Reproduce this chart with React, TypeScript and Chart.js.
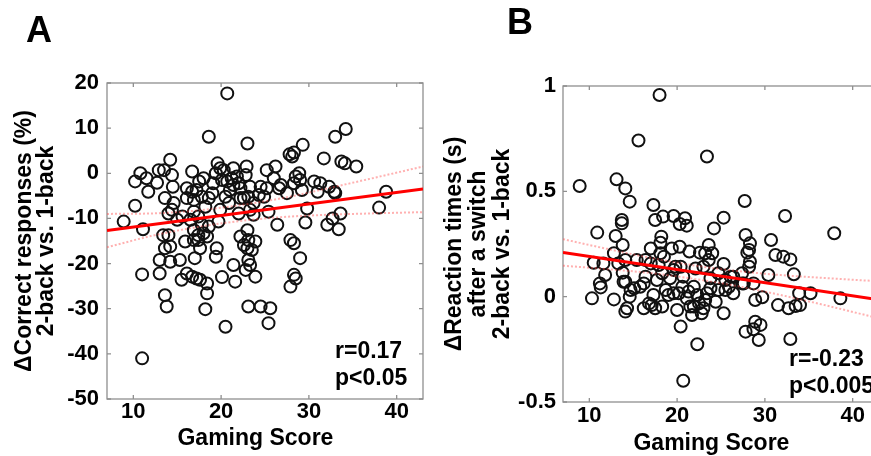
import React, { useEffect, useRef } from "react";
import { Chart, registerables } from "chart.js";

Chart.register(...registerables);

const FONT = "'Liberation Sans', Arial, Helvetica, sans-serif";

// ---------- axes ----------
const xTicks = [10, 20, 30, 40];
const xTitle = "Gaming Score\u00a0\u00a0\u00a0";
const yTicksA = [-50, -40, -30, -20, -10, 0, 10, 20];
const yTickLabelsA = ["-50", "-40", "-30", "-20", "-10", "0", "10", "20"];
const yTicksB = [-0.5, 0, 0.5, 1];
const yTickLabelsB = ["-0.5", "0", "0.5", "1"];

// ---------- panel A: gaming score vs delta correct responses ----------
const gamingA = [
  20.7, 18.6, 23.0, 34.2, 33.0, 29.3, 31.7, 27.8, 28.3, 28.1,
  33.7, 34.1, 35.4, 14.2, 12.9, 13.5, 14.4, 10.8, 10.2, 11.5,
  11.7, 12.7, 10.2, 8.9, 11.1, 11.0, 13.0, 13.0, 13.6, 13.8,
  11.0, 14.5, 13.6, 14.6, 14.0, 14.4, 13.4, 14.0, 13.6, 14.2,
  14.2, 15.3, 15.5, 15.0, 16.7, 16.1, 16.7, 16.1, 16.9, 17.2,
  17.5, 18.0, 17.8, 18.6, 19.0, 19.1, 18.2, 16.9, 17.4, 16.5,
  16.9, 17.8, 17.4, 18.0, 16.9, 17.4, 18.4, 18.6, 17.6, 17.0,
  16.1, 16.7, 17.2, 17.6, 18.4, 18.4, 18.2, 15.9, 15.6, 19.6,
  19.9, 19.4, 20.3, 21.4, 20.1, 20.7, 21.2, 21.8, 21.4, 22.0,
  22.2, 21.0, 20.5, 20.9, 19.9, 19.7, 19.5, 19.4, 20.1, 20.5,
  21.4, 21.6, 22.0, 22.2, 22.9, 22.8, 23.3, 22.6, 23.1, 23.7,
  23.3, 23.7, 23.0, 22.2, 22.6, 23.1, 23.9, 23.0, 23.5, 23.1,
  23.3, 22.8, 23.9, 23.1, 24.5, 25.2, 24.5, 24.3, 24.9, 25.4,
  25.6, 25.4, 25.2, 26.2, 26.0, 26.8, 26.6, 27.5, 28.3, 28.9,
  29.0, 29.2, 26.4, 27.9, 28.3, 29.0, 28.3, 28.5, 27.9, 29.8,
  29.6, 28.5, 30.6, 31.3, 31.0, 32.3, 32.9, 33.0, 32.1, 32.7,
  33.4, 33.6, 38.0, 38.8,
];
const correctA = [
  17.7, 8.1, 6.6, 9.8, 8.1, 6.3, 3.3, 4.2, 4.6, 3.7,
  2.6, 2.2, 1.5, 3.0, 0.7, 0.7, -0.4, 0, -1.8, -1.1,
  -4.1, -2.1, -7.2, -10.7, -12.4, -22.4, -19.2, -22.2, -27.0, -29.5,
  -41.0, -3.0, -5.5, -6.6, -8.9, -8.1, -13.7, -13.7, -16.6, -16.2,
  -19.6, -19.2, -23.6, -10.3, 0.4, -3.3, -4.1, -5.5, -5.9, -3.7,
  -1.8, -1.1, -5.2, -5.5, -4.4, -2.2, -7.4, -8.5, -9.6, -10.3,
  -12.6, -11.4, -13.7, -13.3, -14.8, -14.8, -14.0, -11.8, -16.6, -18.8,
  -22.2, -22.9, -23.3, -23.6, -24.4, -26.6, -30.1, -15.1, -9.6, 2.2,
  1.1, 0, 0.7, 1.1, -1.5, -1.8, -1.1, -0.7, -2.6, -2.2,
  -3.3, -3.7, -5.2, -6.6, -8.1, -10.7, -16.6, -18.5, -23.0, -34.0,
  -20.3, -24.0, -8.9, -5.5, 1.5, -0.4, -3.0, -5.5, -5.2, -6.6,
  -8.1, -9.2, -12.6, -14.0, -15.9, -14.8, -15.1, -16.6, -17.0, -19.2,
  -20.3, -21.4, -22.9, -29.5, -29.5, -3.3, -3.0, -4.8, -5.2, -8.5,
  -29.9, -33.2, 0.7, 1.5, -1.1, -2.6, -3.3, -4.4, -2.2, 0,
  -1.5, -3.7, -11.4, -14.8, -15.5, -18.8, -22.5, -23.3, -25.1, -7.8,
  -10.9, -0.7, -1.8, -2.2, -4.1, -3.0, -4.1, -4.4, -11.4, -10.0,
  -12.4, -8.9, -7.6, -4.1,
];
const fitXA = [7, 43];
const fitYA = [-12.7, -3.5];
const bandXA = [7, 12, 17, 22, 27, 32, 37, 43];
const bandUpA = [-9.0, -8.9, -8.3, -7.1, -5.5, -3.4, -1.2, 1.5];
const bandLoA = [-16.4, -13.9, -12.0, -10.6, -9.7, -9.2, -8.9, -8.6];
const statsA = ["r=0.17", "p<0.05"];

// ---------- panel B: gaming score vs delta reaction times ----------
const gamingB = [
  18.0, 15.6, 23.4, 8.9, 13.1, 14.1, 14.6, 17.3, 27.7, 32.3,
  37.9, 10.9, 13.0, 13.7, 13.7, 13.8, 17.0, 17.5, 18.4, 19.6,
  20.3, 21.1, 20.9, 18.2, 18.1, 20.3, 21.4, 24.2, 25.3, 27.8,
  28.3, 28.2, 28.0, 28.3, 30.7, 31.2, 32.1, 32.9, 33.3, 30.4,
  22.6, 23.2, 24.0, 23.6, 23.0, 25.3, 24.7, 26.1, 27.4, 28.2,
  26.4, 27.6, 28.7, 29.7, 31.5, 32.7, 33.5, 34.0, 33.9, 35.2,
  38.6, 27.8, 28.9, 29.5, 29.3, 28.7, 32.9, 22.3, 20.7, 20.4,
  10.3, 10.5, 11.2, 11.3, 11.8, 11.6, 12.8, 14.1, 14.3, 14.6,
  14.1, 14.7, 13.8, 13.3, 12.8, 14.1, 15.1, 15.4, 15.8, 16.2,
  16.4, 16.2, 16.8, 17.1, 17.3, 17.0, 17.9, 17.7, 18.3, 18.3,
  18.7, 19.0, 19.2, 19.6, 19.8, 20.0, 20.2, 20.6, 20.7, 21.1,
  21.5, 21.7, 21.3, 21.9, 21.9, 22.3, 22.5, 22.8, 23.0, 23.2,
  23.4, 23.8, 23.8, 24.4, 25.3, 24.7, 25.5, 25.9, 19.4, 18.1,
  16.4, 20.4, 22.1, 23.6, 13.9, 17.5, 19.6, 25.5, 27.4, 28.9,
  26.4, 18.5,
];
const reactionB = [
  0.957, 0.741, 0.665, 0.525, 0.557, 0.514, 0.451, 0.435, 0.454, 0.383,
  0.301, 0.304, 0.288, 0.364, 0.348, 0.245, 0.229, 0.364, 0.38, 0.383,
  0.345, 0.337, 0.372, 0.285, 0.256, 0.237, 0.214, 0.324, 0.375, 0.293,
  0.253, 0.222, 0.209, 0.166, 0.269, 0.198, 0.19, 0.177, 0.106, 0.103,
  0.209, 0.206, 0.206, 0.174, 0.142, 0.155, 0.111, 0.095, 0.111, 0.142,
  0.016, 0.063, 0.063, -0.003, -0.04, -0.055, -0.044, -0.04, 0.016, 0.016,
  -0.008, -0.166, -0.119, -0.134, -0.206, -0.155, -0.201, -0.226, -0.399, -0.142,
  -0.008, 0.161, 0.063, 0.044, 0.103, 0.158, -0.013, -0.071, -0.055, 0.0,
  0.071, 0.032, 0.114, 0.158, 0.206, 0.174, 0.04, 0.174, 0.047, 0.063,
  0.095, -0.055, -0.032, -0.04, 0.008, 0.158, 0.15, 0.079, 0.111, -0.047,
  0.032, 0.008, 0.087, 0.127, 0.142, -0.063, 0.016, 0.047, 0.095, -0.008,
  -0.047, -0.087, 0.024, 0.047, -0.047, 0.008, -0.032, -0.079, -0.055, -0.016,
  0.016, 0.04, 0.087, -0.024, -0.079, 0.032, 0.079, 0.047, 0.229, 0.206,
  0.174, 0.142, 0.134, 0.245, 0.071, -0.055, 0.016, 0.032, 0.063, -0.016,
  0.095, 0.19,
];
const fitXB = [7, 43];
const fitYB = [0.21, -0.015];
const bandXB = [7, 12, 17, 22, 27, 32, 37, 43];
const bandUpB = [0.273, 0.227, 0.184, 0.148, 0.121, 0.102, 0.088, 0.073];
const bandLoB = [0.147, 0.131, 0.112, 0.084, 0.049, 0.006, -0.042, -0.103];
const statsB = ["r=-0.23", "p<0.005"];

const toPts = (xs: number[], ys: number[]) => xs.map((x, i) => ({ x, y: ys[i] }));

const framePlugin = {
  id: "frame",
  beforeDatasetsDraw(chart: any) {
    const { ctx, chartArea } = chart;
    const { left, right, top, bottom } = chartArea;
    const sx = chart.scales.x;
    const sy = chart.scales.y;
    ctx.save();
    ctx.strokeStyle = "#8f8f8f";
    ctx.lineWidth = 1.3;
    ctx.strokeRect(left, top, right - left, bottom - top);
    const tl = 4;
    ctx.beginPath();
    sx.ticks.forEach((t: any) => {
      const px = sx.getPixelForValue(t.value);
      ctx.moveTo(px, bottom);
      ctx.lineTo(px, bottom - tl);
      ctx.moveTo(px, top);
      ctx.lineTo(px, top + tl);
    });
    sy.ticks.forEach((t: any) => {
      const py = sy.getPixelForValue(t.value);
      ctx.moveTo(left, py);
      ctx.lineTo(left + tl, py);
      ctx.moveTo(right, py);
      ctx.lineTo(right - tl, py);
    });
    ctx.stroke();
    ctx.restore();
  },
  afterDatasetsDraw(chart: any, _args: any, opts: any) {
    if (!opts || !opts.lines) return;
    const { ctx, chartArea } = chart;
    ctx.save();
    ctx.fillStyle = "#000";
    ctx.font = `bold 23px ${FONT}`;
    ctx.textAlign = "left";
    ctx.textBaseline = "alphabetic";
    opts.lines.forEach((s: string, i: number) => {
      ctx.fillText(s, chartArea.right + opts.dx, chartArea.bottom + opts.dy[i]);
    });
    ctx.restore();
  },
};

type PanelProps = {
  left: number;
  width: number;
  xs: number[];
  ys: number[];
  fitX: number[];
  fitY: number[];
  bandX: number[];
  bandUp: number[];
  bandLo: number[];
  yMin: number;
  yMax: number;
  yTicks: number[];
  yTickLabels: string[];
  yTitle: string[];
  yTitleLH: number;
  yTitlePad: number;
  axisW: number;
  axisH: number;
  padTop: number;
  padRight: number;
  yTickPad: number;
  xTickPad: number;
  xTitlePad: number;
  stats: string[];
  statsDx: number;
  statsDy: number[];
};

function Panel(p: PanelProps) {
  const ref = useRef<HTMLCanvasElement | null>(null);
  useEffect(() => {
    if (!ref.current) return;
    const bandStyle = {
      type: "line" as const,
      borderColor: "rgba(255,70,70,0.42)",
      borderWidth: 2,
      borderDash: [2, 2],
      pointRadius: 0,
      fill: false,
      cubicInterpolationMode: "monotone" as const,
    };
    const chart = new Chart(ref.current, {
      type: "scatter",
      data: {
        datasets: [
          {
            type: "line",
            data: toPts(p.fitX, p.fitY),
            borderColor: "#ff0000",
            borderWidth: 3,
            pointRadius: 0,
            fill: false,
          } as any,
          { ...bandStyle, data: toPts(p.bandX, p.bandUp) } as any,
          { ...bandStyle, data: toPts(p.bandX, p.bandLo) } as any,
          {
            data: toPts(p.xs, p.ys),
            pointRadius: 6,
            pointHoverRadius: 6,
            borderWidth: 2,
            borderColor: "#111",
            backgroundColor: "rgba(0,0,0,0)",
          } as any,
        ],
      },
      options: {
        responsive: false,
        animation: false,
        events: [],
        layout: { padding: { top: p.padTop, right: p.padRight, left: 0, bottom: 0 } },
        plugins: {
          legend: { display: false },
          tooltip: { enabled: false },
          frame: { lines: p.stats, dx: p.statsDx, dy: p.statsDy },
        } as any,
        scales: {
          x: {
            type: "linear",
            min: 7,
            max: 43,
            afterBuildTicks: (s: any) => {
              s.ticks = xTicks.map((v) => ({ value: v }));
            },
            afterFit: (s: any) => {
              s.height = p.axisH;
            },
            grid: { display: false, drawTicks: false },
            border: { display: false },
            ticks: {
              color: "#000",
              font: { family: FONT, size: 22, weight: "bold" },
              padding: p.xTickPad,
              maxRotation: 0,
              autoSkip: false,
              callback: (v: any) => String(v),
            },
            title: {
              display: true,
              text: xTitle,
              color: "#000",
              font: { family: FONT, size: 23, weight: "bold", lineHeight: 1 },
              padding: { top: 0, bottom: p.xTitlePad },
            },
          },
          y: {
            type: "linear",
            min: p.yMin,
            max: p.yMax,
            afterBuildTicks: (s: any) => {
              s.ticks = p.yTicks.map((v) => ({ value: v }));
            },
            afterFit: (s: any) => {
              s.width = p.axisW;
            },
            grid: { display: false, drawTicks: false },
            border: { display: false },
            ticks: {
              color: "#000",
              font: { family: FONT, size: 22, weight: "bold" },
              padding: p.yTickPad,
              autoSkip: false,
              callback: (v: any) => {
                const i = p.yTicks.indexOf(Number(v));
                return i >= 0 ? p.yTickLabels[i] : String(v);
              },
            },
            title: {
              display: true,
              text: p.yTitle,
              color: "#000",
              font: { family: FONT, size: 23, weight: "bold", lineHeight: `${p.yTitleLH}px` },
              padding: { top: p.yTitlePad, bottom: 0 },
            },
          },
        },
      } as any,
      plugins: [framePlugin as any],
    });
    return () => chart.destroy();
  }, []);
  return (
    <canvas
      ref={ref}
      width={p.width}
      height={456}
      style={{ position: "absolute", left: p.left, top: 0, width: p.width, height: 456, display: "block" }}
    />
  );
}

export default function App() {
  const labelStyle: React.CSSProperties = {
    position: "absolute",
    fontFamily: FONT,
    fontWeight: "bold",
    fontSize: 36,
    lineHeight: "36px",
    color: "#000",
  };
  return (
    <div
      style={{
        position: "fixed",
        left: 0,
        top: 0,
        width: 871,
        height: 456,
        overflow: "hidden",
        background: "#fff",
      }}
    >
      <Panel
        left={0}
        width={440}
        xs={gamingA}
        ys={correctA}
        fitX={fitXA}
        fitY={fitYA}
        bandX={bandXA}
        bandUp={bandUpA}
        bandLo={bandLoA}
        yMin={-50}
        yMax={20}
        yTicks={yTicksA}
        yTickLabels={yTickLabelsA}
        yTitle={["\u0394Correct responses (%)", "2-back vs. 1-back"]}
        yTitleLH={22}
        yTitlePad={14}
        axisW={107}
        axisH={57}
        padTop={83}
        padRight={17}
        yTickPad={8}
        xTickPad={0}
        xTitlePad={6}
        stats={statsA}
        statsDx={-88}
        statsDy={[-41, -14]}
      />
      <Panel
        left={440}
        width={460}
        xs={gamingB}
        ys={reactionB}
        fitX={fitXB}
        fitY={fitYB}
        bandX={bandXB}
        bandUp={bandUpB}
        bandLo={bandLoB}
        yMin={-0.5}
        yMax={1}
        yTicks={yTicksB}
        yTickLabels={yTickLabelsB}
        yTitle={["\u0394Reaction times (s)", "after a switch", "2-back vs. 1-back"]}
        yTitleLH={24}
        yTitlePad={3}
        axisW={123}
        axisH={54}
        padTop={86}
        padRight={21}
        yTickPad={7}
        xTickPad={1}
        xTitlePad={1}
        stats={statsB}
        statsDx={-90}
        statsDy={[-36, -9]}
      />
      <span style={{ ...labelStyle, left: 26, top: 12 }}>A</span>
      <span style={{ ...labelStyle, left: 507, top: 4 }}>B</span>
    </div>
  );
}
